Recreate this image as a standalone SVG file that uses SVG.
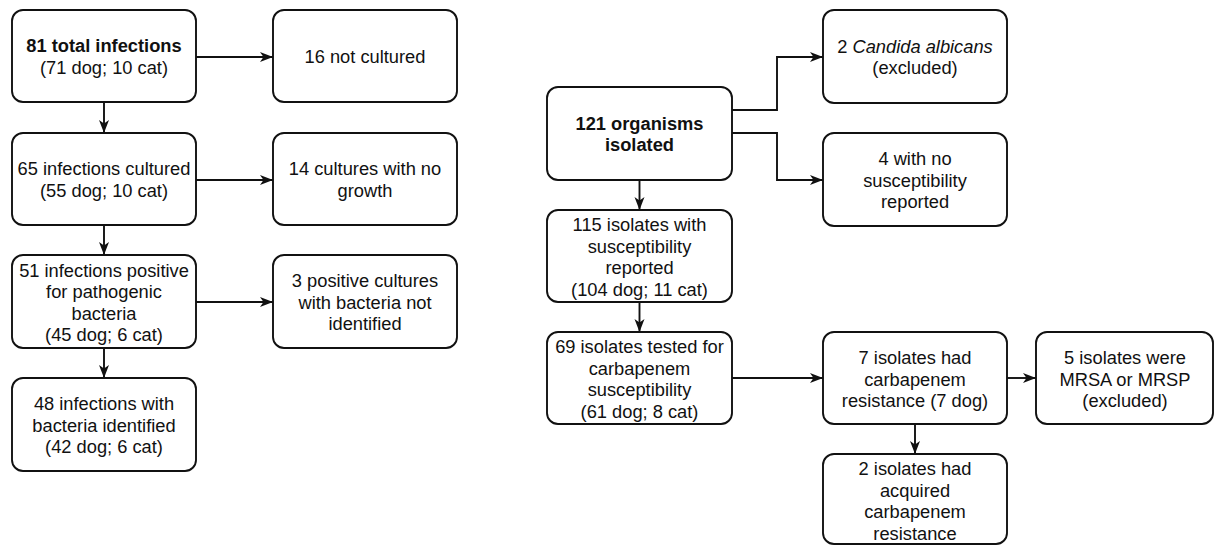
<svg xmlns="http://www.w3.org/2000/svg" width="1215" height="545" viewBox="0 0 1215 545">
<style>
  .box { fill: #ffffff; stroke: #111111; stroke-width: 1.9; }
  .t { font-family: "Liberation Sans", Arial, Helvetica, sans-serif; font-size: 18.3px; fill: #111111; text-anchor: middle; }
  .b { font-weight: bold; }
  .i { font-style: italic; }
  .c { fill: none; stroke: #111111; stroke-width: 1.9; marker-end: url(#arr); }
</style>
<defs>
  <marker id="arr" markerUnits="userSpaceOnUse" viewBox="0 0 13 11" refX="13" refY="5.5" markerWidth="13" markerHeight="11" orient="auto">
    <path d="M0,0.5 L13,5.5 L0,10.5 L3.5,5.5 Z" fill="#111111"/>
  </marker>
</defs>
<rect width="1215" height="545" fill="#ffffff"/>

<g id="connectors">
  <path class="c" d="M196,57 H273"/>
  <path class="c" d="M104,102 V133"/>
  <path class="c" d="M196,180 H273"/>
  <path class="c" d="M104,225 V255"/>
  <path class="c" d="M196,302 H273"/>
  <path class="c" d="M104,348 V378"/>
  <path class="c" d="M732,110 H777 V57 H823"/>
  <path class="c" d="M732,133 H777 V180 H823"/>
  <path class="c" d="M639.5,180 V210"/>
  <path class="c" d="M639.5,302 V332"/>
  <path class="c" d="M732,378 H823"/>
  <path class="c" d="M1007,378 H1036"/>
  <path class="c" d="M915,424 V454"/>
</g>

<g id="n-total">
  <rect class="box" x="12" y="10" width="184" height="92" rx="11"/>
  <text class="t b" x="104" y="52">81 total infections</text>
  <text class="t" x="104" y="74">(71 dog; 10 cat)</text>
</g>
<g id="n-notcultured">
  <rect class="box" x="273" y="10" width="184" height="92" rx="11"/>
  <text class="t" x="365" y="63">16 not cultured</text>
</g>
<g id="n-cultured">
  <rect class="box" x="12" y="133" width="184" height="92" rx="11"/>
  <text class="t" x="104" y="175">65 infections cultured</text>
  <text class="t" x="104" y="197">(55 dog; 10 cat)</text>
</g>
<g id="n-nogrowth">
  <rect class="box" x="273" y="133" width="184" height="92" rx="11"/>
  <text class="t" x="365" y="175">14 cultures with no</text>
  <text class="t" x="365" y="197">growth</text>
</g>
<g id="n-positive">
  <rect class="box" x="12" y="255" width="184" height="93" rx="11"/>
  <text class="t" x="104" y="276.5">51 infections positive</text>
  <text class="t" x="104" y="298">for pathogenic</text>
  <text class="t" x="104" y="319.5">bacteria</text>
  <text class="t" x="104" y="341">(45 dog; 6 cat)</text>
</g>
<g id="n-notidentified">
  <rect class="box" x="273" y="255" width="184" height="93" rx="11"/>
  <text class="t" x="365" y="287">3 positive cultures</text>
  <text class="t" x="365" y="308.5">with bacteria not</text>
  <text class="t" x="365" y="330">identified</text>
</g>
<g id="n-identified">
  <rect class="box" x="12" y="378" width="184" height="93" rx="11"/>
  <text class="t" x="104" y="410">48 infections with</text>
  <text class="t" x="104" y="431.5">bacteria identified</text>
  <text class="t" x="104" y="453">(42 dog; 6 cat)</text>
</g>

<g id="n-organisms">
  <rect class="box" x="547" y="87" width="185" height="93" rx="11"/>
  <text class="t b" x="639.5" y="129.5">121 organisms</text>
  <text class="t b" x="639.5" y="151">isolated</text>
</g>
<g id="n-candida">
  <rect class="box" x="823" y="10" width="184" height="93" rx="11"/>
  <text class="t" x="915" y="52.5">2 <tspan class="i">Candida albicans</tspan></text>
  <text class="t" x="915" y="74">(excluded)</text>
</g>
<g id="n-nosusc">
  <rect class="box" x="823" y="133" width="184" height="93" rx="11"/>
  <text class="t" x="915" y="165">4 with no</text>
  <text class="t" x="915" y="186.5">susceptibility</text>
  <text class="t" x="915" y="208">reported</text>
</g>
<g id="n-susc">
  <rect class="box" x="547" y="210" width="185" height="92" rx="11"/>
  <text class="t" x="639.5" y="231">115 isolates with</text>
  <text class="t" x="639.5" y="252.5">susceptibility</text>
  <text class="t" x="639.5" y="274">reported</text>
  <text class="t" x="639.5" y="295.5">(104 dog; 11 cat)</text>
</g>
<g id="n-tested">
  <rect class="box" x="547" y="332" width="185" height="92" rx="11"/>
  <text class="t" x="639.5" y="353">69 isolates tested for</text>
  <text class="t" x="639.5" y="374.5">carbapenem</text>
  <text class="t" x="639.5" y="396">susceptibility</text>
  <text class="t" x="639.5" y="417.5">(61 dog; 8 cat)</text>
</g>
<g id="n-resistant">
  <rect class="box" x="823" y="332" width="184" height="92" rx="11"/>
  <text class="t" x="915" y="364">7 isolates had</text>
  <text class="t" x="915" y="385.5">carbapenem</text>
  <text class="t" x="915" y="407">resistance (7 dog)</text>
</g>
<g id="n-mrsa">
  <rect class="box" x="1036" y="332" width="177" height="92" rx="11"/>
  <text class="t" x="1125" y="364">5 isolates were</text>
  <text class="t" x="1125" y="385.5">MRSA or MRSP</text>
  <text class="t" x="1125" y="407">(excluded)</text>
</g>
<g id="n-acquired">
  <rect class="box" x="823" y="454" width="184" height="90" rx="11"/>
  <text class="t" x="915" y="475">2 isolates had</text>
  <text class="t" x="915" y="496.5">acquired</text>
  <text class="t" x="915" y="518">carbapenem</text>
  <text class="t" x="915" y="539.5">resistance</text>
</g>
</svg>
